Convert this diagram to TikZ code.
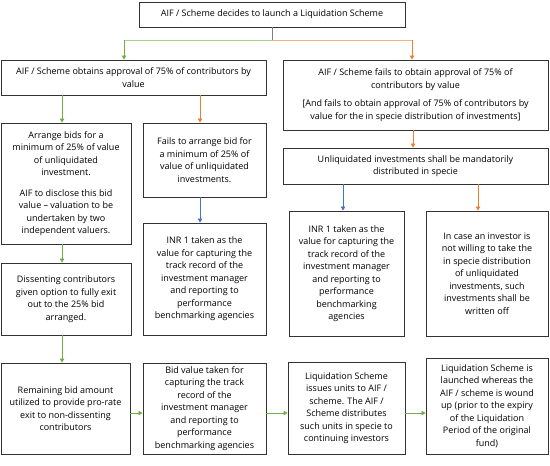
\documentclass[tikz,border=0pt]{standalone}
\usepackage{fontspec}
\setmainfont{Open Sans}
\usetikzlibrary{arrows.meta,calc}
\definecolor{cgreen}{HTML}{70AD47}
\definecolor{clgreen}{HTML}{A9D18E}
\definecolor{corange}{HTML}{ED7D31}
\definecolor{clorange}{HTML}{F4B183}
\definecolor{cblue}{HTML}{4472C4}
\definecolor{cgray}{HTML}{7F7F7F}
\definecolor{cborder}{HTML}{333333}
\begin{document}
\begin{tikzpicture}[x=1pt,y=-1pt,
  box/.style={draw=cborder,line width=0.9pt,fill=white,align=center,inner sep=0pt,
    font=\fontsize{9}{12.5}\selectfont},
  tip/.style={-{Triangle[length=4pt,width=4.5pt]},line width=0.8pt},
  garr/.style={tip,draw=cgreen,-{Triangle[length=4pt,width=4.5pt,fill=cgreen]}},
  oarr/.style={tip,draw=corange,-{Triangle[length=4pt,width=4.5pt,fill=corange]}},
  barr/.style={tip,draw=cblue,-{Triangle[length=4pt,width=4.5pt,fill=cblue]}}]
\useasboundingbox (0,0) rectangle (550,466);
\newcommand{\bx}[6]{\node[box,minimum width=#4pt,minimum height=#5pt] (#1) at (#2,#3) {#6};}
\bx{T}{272}{14.5}{266}{25}{AIF / Scheme decides to launch a Liquidation Scheme}
\bx{L1}{133.5}{77.5}{265}{35}{AIF / Scheme obtains approval of 75\% of contributors by\\value}
\bx{R1}{415.5}{95}{265}{70}{AIF / Scheme fails to obtain approval of 75\% of\\contributors by value\\[6pt][And fails to obtain approval of 75\% of contributors by\\value for the in specie distribution of investments]}
\bx{A}{66}{183.5}{130}{121}{Arrange bids for a\\minimum of 25\% of value\\of unliquidated\\investment.\\[8pt]AIF to disclose this bid\\value – valuation to be\\undertaken by two\\independent valuers.}
\bx{B}{204.5}{160}{123}{74}{Fails to arrange bid for\\a minimum of 25\% of\\value of unliquidated\\investments.}
\bx{C}{204.5}{279}{123}{112}{INR 1 taken as the\\value for capturing the\\track record of the\\investment manager\\and reporting to\\performance\\benchmarking agencies}
\bx{D}{66}{299}{130}{72}{Dissenting contributors\\given option to fully exit\\out to the 25\% bid\\arranged.}
\bx{E}{65.5}{408.5}{129}{91}{Remaining bid amount\\utilized to provide pro-rate\\exit to non-dissenting\\contributors}
\bx{F}{204.5}{408.5}{123}{91}{Bid value taken for\\capturing the track\\record of the\\investment manager\\and reporting to\\performance\\benchmarking agencies}
\bx{G}{346.5}{408}{117}{92}{Liquidation Scheme\\issues units to AIF /\\scheme. The AIF /\\Scheme distributes\\such units in specie to\\continuing investors}
\bx{H}{487}{406}{122}{96}{Liquidation Scheme is\\launched whereas the\\AIF / scheme is wound\\up (prior to the expiry\\of the Liquidation\\Period of the original\\fund)}
\bx{R2}{415.5}{166}{265}{36}{Unliquidated investments shall be mandatorily\\distributed in specie}
\bx{R3}{346.5}{273.5}{115}{125}{INR 1 taken as the\\value for capturing the\\track record of the\\investment manager\\and reporting to\\performance\\benchmarking\\agencies}
\bx{R4}{487}{273.5}{122}{125}{In case an investor is\\not willing to take the\\in specie distribution\\of unliquidated\\investments, such\\investments shall be\\written off}
% top split
\coordinate (split) at (272,40);
\coordinate (lx) at (124,40);
\coordinate (rx) at (412,40);
\draw[cgray,line width=0.8pt] (T.south) -- (split);
\draw[clgreen,line width=0.8pt] (split) -- (lx);
\draw[clorange,line width=0.8pt] (split) -- (rx);
\draw[garr] (lx) -- (lx |- L1.north);
\draw[oarr] (rx) -- (rx |- R1.north);
% left column
\coordinate (ax) at (62,0);
\coordinate (bxx) at (200,0);
\draw[garr] (L1.south -| ax) -- (A.north -| ax);
\draw[oarr] (L1.south -| bxx) -- (B.north -| bxx);
\draw[barr] (B.south -| bxx) -- (C.north -| bxx);
\draw[garr] (A.south -| ax) -- (D.north -| ax);
\draw[garr] (D.south -| ax) -- (E.north -| ax);
% bottom row
\coordinate (rowy) at (0,413);
\draw[garr] (E.east |- rowy) -- (F.west |- rowy);
\draw[garr] (F.east |- rowy) -- (G.west |- rowy);
\draw[garr] (G.east |- rowy) -- (H.west |- rowy);
% right column
\coordinate (r2x) at (413,0);
\coordinate (r3x) at (343,0);
\coordinate (r4x) at (478,0);
\draw[oarr] (R1.south -| r2x) -- (R2.north -| r2x);
\draw[barr] (R2.south -| r3x) -- (R3.north -| r3x);
\draw[oarr] (R2.south -| r4x) -- (R4.north -| r4x);
\end{tikzpicture}
\end{document}
